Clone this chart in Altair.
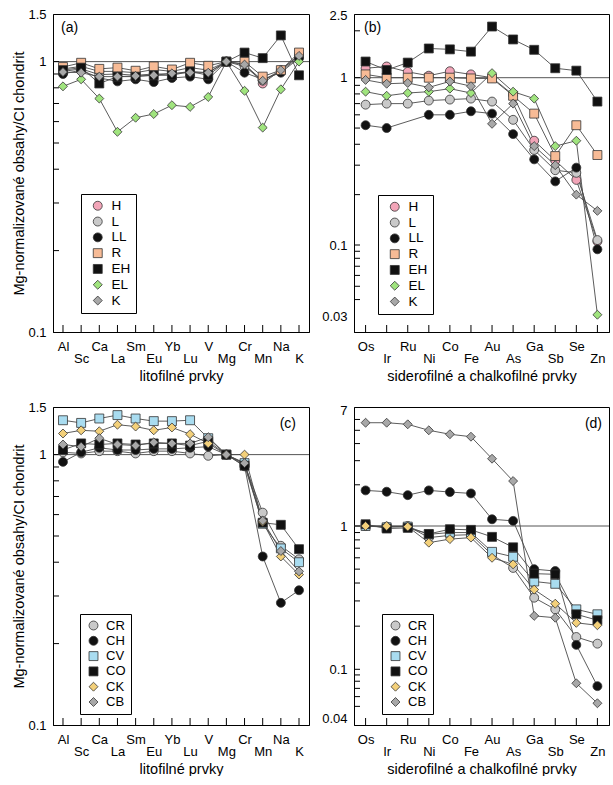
import altair as alt
import pandas as pd

# ---------------- categories ----------------
lito = ["Al", "Sc", "Ca", "La", "Sm", "Eu", "Yb", "Lu", "V", "Mg", "Cr", "Mn", "Na", "K"]
lito_low = ["Sc", "La", "Eu", "Lu", "Mg", "Mn", "K"]
sidero = ["Os", "Ir", "Ru", "Ni", "Co", "Fe", "Au", "As", "Ga", "Sb", "Se", "Zn"]
sidero_low = ["Ir", "Ni", "Fe", "As", "Sb", "Zn"]

ord_series = ["H", "L", "LL", "R", "EH", "EL", "K"]
ord_colors = ["#f2a5b8", "#c9c9c9", "#111111", "#f7bb96", "#111111", "#a0e47e", "#a8a8a8"]
ord_shapes = ["circle", "circle", "circle", "square", "square", "diamond", "diamond"]
ord_sizes = [80, 80, 80, 72, 72, 130, 130]

carb_series = ["CR", "CH", "CV", "CO", "CK", "CB"]
carb_colors = ["#c9c9c9", "#111111", "#a9dcf0", "#111111", "#f3d07a", "#a8a8a8"]
carb_shapes = ["circle", "circle", "square", "square", "diamond", "diamond"]
carb_sizes = [80, 80, 72, 72, 130, 130]

# ---------------- panel (a): lithophile, ordinary/enstatite ----------------
a_H = [0.94, 0.96, 0.92, 0.92, 0.91, 0.935, 0.92, 0.95, 0.93, 1.0, 0.98, 0.83, 0.93, 1.06]
a_L = [0.92, 0.94, 0.895, 0.90, 0.89, 0.90, 0.90, 0.92, 0.91, 1.0, 0.96, 0.85, 0.92, 1.04]
a_LL = [0.90, 0.93, 0.87, 0.845, 0.86, 0.84, 0.87, 0.88, 0.86, 1.0, 0.91, 0.86, 0.91, 1.03]
a_R = [0.955, 0.99, 0.94, 0.95, 0.925, 0.96, 0.935, 0.99, 0.965, 1.0, 1.0, 0.88, 0.93, 1.08]
a_EH = [0.93, 0.95, 0.83, 0.88, 0.88, 0.89, 0.89, 0.92, 0.89, 1.0, 1.08, 1.03, 1.25, 0.89]
a_EL = [0.81, 0.86, 0.73, 0.55, 0.62, 0.64, 0.69, 0.68, 0.74, 1.0, 0.78, 0.57, 0.79, 1.0]
a_K = [0.915, 0.91, 0.88, 0.88, 0.885, 0.89, 0.905, 0.91, 0.91, 1.0, 0.975, 0.85, 0.93, 1.05]

# ---------------- panel (b): siderophile, ordinary/enstatite ----------------
b_H = [1.15, 1.18, 1.09, 1.03, 1.10, 1.05, 1.0, 0.79, 0.42, 0.32, 0.245, 0.105]
b_L = [0.69, 0.70, 0.70, 0.73, 0.74, 0.75, 0.72, 0.56, 0.37, 0.28, 0.27, 0.107]
b_LL = [0.52, 0.50, None, 0.60, 0.60, 0.63, 0.61, 0.46, 0.325, 0.24, 0.29, 0.093]
b_R = [1.05, 1.0, 1.0, 1.0, 1.0, 0.99, 0.99, 0.78, 0.61, 0.34, 0.52, 0.345]
b_EH = [1.27, 1.12, 1.25, 1.54, 1.52, 1.47, 2.13, 1.76, 1.51, 1.15, 1.11, 0.72]
b_EL = [0.825, 0.78, 0.81, 0.825, 0.86, 0.81, 1.07, 0.825, 0.75, 0.39, 0.42, 0.031]
b_K = [0.97, 0.92, 0.93, 0.875, 0.95, 0.89, 0.53, 0.70, 0.39, 0.30, 0.20, 0.16]

# ---------------- panel (c): lithophile, carbonaceous ----------------
c_CR = [1.02, 1.01, 1.03, 1.03, 1.01, 1.03, 1.03, 1.01, 0.99, 1.0, 0.92, 0.61, 0.46, 0.41]
c_CH = [0.94, 1.02, 1.06, 1.04, 1.04, 1.05, 1.05, 1.06, 1.07, 1.0, 0.905, 0.42, 0.283, 0.315]
c_CV = [1.34, 1.31, 1.36, 1.40, 1.36, 1.33, 1.33, 1.34, 1.15, 1.0, 0.93, 0.555, 0.45, 0.40]
c_CO = [1.04, 1.10, 1.09, 1.10, 1.09, 1.10, 1.10, 1.08, 1.12, 1.0, 0.91, 0.56, 0.55, 0.447]
c_CK = [1.197, 1.23, 1.22, 1.29, 1.27, 1.23, 1.26, 1.19, 1.10, 1.0, 1.0, 0.565, 0.42, 0.36]
c_CB = [1.09, 1.07, 1.15, 1.09, 1.08, 1.11, 1.10, 1.10, 1.16, 1.0, 0.93, 0.57, 0.44, 0.37]

# ---------------- panel (d): siderophile, carbonaceous ----------------
d_CR = [1.0, 0.99, 1.0, 0.83, 0.86, 0.87, 0.63, 0.51, 0.316, 0.262, 0.168, 0.151]
d_CH = [1.82, 1.78, 1.68, 1.82, 1.77, 1.73, 1.12, 1.09, 0.50, 0.485, 0.148, 0.073]
d_CV = [1.0, 0.98, 0.99, 0.875, 0.90, 0.90, 0.66, 0.61, 0.41, 0.395, 0.262, 0.242]
d_CO = [1.03, 0.96, 0.97, 0.88, 0.95, 0.94, 0.84, 0.71, 0.465, 0.46, 0.242, 0.22]
d_CK = [1.0, 1.0, 0.99, 0.765, 0.81, 0.83, 0.60, 0.54, 0.36, 0.287, 0.211, 0.203]
d_CB = [5.68, 5.68, 5.53, 5.0, 4.68, 4.49, 3.10, 2.13, 0.236, 0.229, 0.077, 0.053]

# ---------------- axis tick values ----------------
ac_labels = [0.1, 1, 1.5]
ac_minor = [0.2, 0.3, 0.4, 0.5, 0.6, 0.7, 0.8, 0.9, 1]
b_labels = [0.03, 0.1, 1, 2.5]
b_minor = [0.04, 0.05, 0.06, 0.07, 0.08, 0.09, 0.1, 0.2, 0.3, 0.4, 0.5, 0.6, 0.7, 0.8, 0.9, 1, 2]
d_labels = [0.04, 0.1, 1, 7]
d_minor = [0.05, 0.06, 0.07, 0.08, 0.09, 0.1, 0.2, 0.3, 0.4, 0.5, 0.6, 0.7, 0.8, 0.9, 1, 2, 3, 4, 5, 6]

YTITLE = "Mg-normalizované obsahy/CI chondrit"
FONT = "Liberation Sans"
H = 318


def panel(elements, lows, series, vals, colors, shapes, sizes, ydom, yrng,
          ylabels, yminor, ytitle, xtitle, W, leg, legstyle, tag, tag_x, tag_y, tag_align):
    rows = []
    for s, arr in zip(series, vals):
        for i, (e, v) in enumerate(zip(elements, arr)):
            if v is not None:
                rows.append({"el": e, "i": i, "s": s, "v": v})
    df = pd.DataFrame(rows)

    ys = alt.Scale(type="log", domain=ydom, range=yrng, nice=False)
    xs = alt.Scale(type="point", domain=elements, padding=0.55)
    lows_str = "[" + ",".join("'%s'" % e for e in lows) + "]"
    xaxis = alt.Axis(title=xtitle, labelAngle=0, ticks=False, grid=False,
                     labelExpr="indexof(%s, datum.value) >= 0 ? ['', datum.value] : datum.value" % lows_str,
                     labelBaseline="top", labelLineHeight=12, labelPadding=8,
                     labelFontSize=13, titleFontSize=14.5, titleFontWeight="normal",
                     titlePadding=4, domainColor="black", labelColor="black",
                     titleColor="black", labelFlush=False)
    yaxis = alt.Axis(title=ytitle, values=ylabels, labelExpr="'' + datum.value",
                     ticks=False, grid=False, labelPadding=7, labelFontSize=13,
                     titleFontSize=14.5, titleFontWeight="normal", titlePadding=1,
                     domainColor="black", labelColor="black", titleColor="black",
                     labelFlush=False)
    X = lambda f: alt.X(f, scale=xs, axis=xaxis, sort=elements)
    Y = lambda f: alt.Y(f, scale=ys, axis=yaxis)

    one = pd.DataFrame({"k": [0]})
    lx, ly, lw, lh = leg
    sym_off, lab_off, lab_fs, row_pad = legstyle
    shadow = alt.Chart(one).mark_rect(color="black").encode(
        x=alt.value(lx + 3), x2=alt.value(lx + lw + 3),
        y=alt.value(ly + 3), y2=alt.value(ly + lh + 3))
    ref = alt.Chart(pd.DataFrame({"v": [1.0]})).mark_rule(
        color="#555555", strokeWidth=1).encode(y=Y("v:Q"))
    yt = alt.Chart(pd.DataFrame({"t": yminor})).mark_rule(
        color="black", strokeWidth=1).encode(y=Y("t:Q"), x=alt.value(0), x2=alt.value(6))
    xt = alt.Chart(pd.DataFrame({"el": elements})).mark_rule(
        color="black", strokeWidth=1).encode(x=X("el:N"), y=alt.value(H), y2=alt.value(H - 7))
    lines = alt.Chart(df).mark_line(color="#4a4a4a", strokeWidth=0.9).encode(
        x=X("el:N"), y=Y("v:Q"), detail="s:N", order=alt.Order("i:Q"))
    legend = alt.Legend(
        title=None, orient="none", legendX=lx, legendY=ly,
        strokeColor="black", fillColor="white", padding=5, cornerRadius=0,
        labelFontSize=lab_fs, labelFont=FONT, labelColor="black",
        symbolSize=95, symbolOffset=sym_off, labelOffset=lab_off, rowPadding=row_pad,
        symbolStrokeColor="#333333", symbolStrokeWidth=0.8)
    pts = alt.Chart(df).mark_point(filled=True, opacity=1, stroke="#333333",
                                   strokeWidth=0.8).encode(
        x=X("el:N"), y=Y("v:Q"),
        color=alt.Color("s:N", scale=alt.Scale(domain=series, range=colors), legend=legend),
        shape=alt.Shape("s:N", scale=alt.Scale(domain=series, range=shapes), legend=legend),
        size=alt.Size("s:N", scale=alt.Scale(domain=series, range=sizes), legend=None),
        order=alt.Order("i:Q"))
    tagc = alt.Chart(one).mark_text(text=tag, fontSize=14, font=FONT, align=tag_align,
                                    baseline="middle", color="black").encode(
        x=alt.value(tag_x), y=alt.value(tag_y))
    return alt.layer(shadow, ref, yt, xt, lines, pts, tagc).properties(width=W, height=H)


pa = panel(lito, lito_low, ord_series, [a_H, a_L, a_LL, a_R, a_EH, a_EL, a_K],
           ord_colors, ord_shapes, ord_sizes, [0.1, 1.5], [H, 0],
           ac_labels, ac_minor, YTITLE, "litofilné prvky", 256,
           (28, 180, 52, 110), (5, 7, 13.5, 0.8), "(a)", 8, 14, "left")
pb = panel(sidero, sidero_low, ord_series, [b_H, b_L, b_LL, b_R, b_EH, b_EL, b_K],
           ord_colors, ord_shapes, ord_sizes,
           [0.0232, 0.03, 0.1, 1, 2.5, 2.56], [H, 302.7, 231, 63.7, 1.7, 0],
           b_labels, b_minor, None, "siderofilné a chalkofilné prvky", 255,
           (24, 181, 52, 110), (5, 7, 13.5, 0.8), "(b)", 10, 14, "left")
pc = panel(lito, lito_low, carb_series, [c_CR, c_CH, c_CV, c_CO, c_CK, c_CB],
           carb_colors, carb_shapes, carb_sizes, [0.1, 1.5], [H, 0],
           ac_labels, ac_minor, YTITLE, "litofilné prvky", 256,
           (27, 207, 48, 95), (2, 6, 13, 1.3), "(c)", 243, 17, "right")
pd_ = panel(sidero, sidero_low, carb_series, [d_CR, d_CH, d_CV, d_CO, d_CK, d_CB],
            carb_colors, carb_shapes, carb_sizes,
            [0.0353, 0.04, 0.1, 1, 7, 7.4], [H, 311.3, 262.3, 119, 3.3, 0],
            d_labels, d_minor, None, "siderofilné a chalkofilné prvky", 255,
            (28, 207, 48, 95), (2, 6, 13, 1.3), "(d)", 248, 17, "right")

ind = dict(x="independent", y="independent", color="independent",
           shape="independent", size="independent")
row1 = alt.hconcat(pa, pb, spacing=11).resolve_scale(**ind).resolve_legend(
    color="independent", shape="independent")
row2 = alt.hconcat(pc, pd_, spacing=11).resolve_scale(**ind).resolve_legend(
    color="independent", shape="independent")
chart = alt.vconcat(row1, row2, spacing=17).resolve_scale(**ind).resolve_legend(
    color="independent", shape="independent").properties(
    padding={"left": 11, "top": 7, "right": 2, "bottom": 0}
).configure(font=FONT).configure_view(stroke="black", strokeWidth=1)

chart.save("out.html", embed_options={"renderer": "svg", "actions": False})
